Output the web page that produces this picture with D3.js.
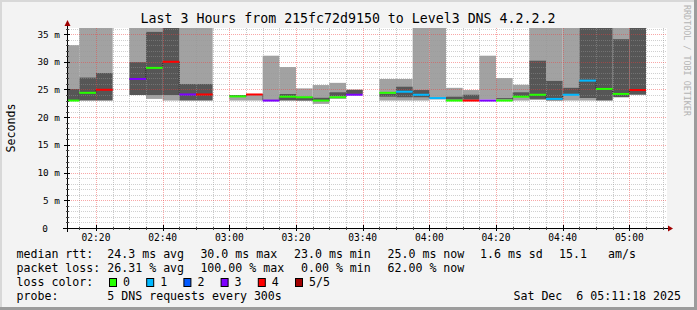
<!DOCTYPE html>
<html><head><meta charset="utf-8">
<script src="https://cdn.jsdelivr.net/npm/d3@7"></script>
<style>
html,body{margin:0;padding:0;background:#f3f3f3;}
svg{display:block;}
text{font-family:"DejaVu Sans Mono",monospace;white-space:pre;}
</style></head><body>
<script>
// ---- data ----
const stepEnds = ["02:15","02:20","02:25","02:30","02:35","02:40","02:45","02:50","02:55","03:00",
  "03:05","03:10","03:15","03:20","03:25","03:30","03:35","03:40","03:45","03:50",
  "03:55","04:00","04:05","04:10","04:15","04:20","04:25","04:30","04:35","04:40",
  "04:45","04:50","04:55","05:00","05:05"];
// values in ms; 40 means above the top of the plot
const lightLo = [25.1,27.2,28.0,null,29.95,23.3,23.0,26.0,26.0,null,
  23.0,23.0,23.0,24.2,23.0,22.4,23.3,24.2,null,23.0,
  23.0,23.0,23.2,23.0,23.0,23.2,23.2,23.0,23.1,26.6,
  23.0,23.0,null,34.1,null];
const lightHi = [33.0,40,40,null,40,40,40,40,40,null,
  24.0,24.1,31.1,29.05,25.2,25.8,26.2,24.95,null,26.9,
  26.9,40,40,25.3,24.9,31.1,27.06,25.85,40,40,
  40,23.45,null,40,null];
const darkLo = [23.0,23.0,23.0,null,24.0,24.0,24.0,23.0,23.0,null,
  23.8,null,null,23.0,23.0,23.1,23.8,24.2,null,23.7,
  23.6,23.6,null,23.2,23.2,null,23.2,23.8,23.3,23.0,
  24.2,23.45,23.0,23.6,24.05];
const darkHi = [25.1,27.2,28.0,null,29.95,35.4,40,26.0,26.0,null,
  24.0,null,null,24.2,23.5,23.5,24.5,24.95,null,24.2,
  25.5,24.9,null,23.7,24.05,null,23.45,24.5,30.2,26.6,
  25.3,40,40,34.1,40];
const median = [23.0,24.4,24.95,null,26.9,28.9,30.0,24.1,24.1,null,
  23.75,24.1,23.0,23.7,23.6,23.0,23.6,24.05,null,24.4,
  24.6,24.05,23.45,23.0,23.0,23.0,23.0,23.7,24.05,23.3,
  24.05,26.6,25.1,24.2,24.9];
const loss = [0,0,4,5,3,0,4,3,4,5,
  0,4,3,0,0,0,0,3,5,0,
  1,1,1,0,4,3,0,0,0,1,
  1,1,0,0,4];
const lossColors = ["#26ff00","#00b8ff","#0059ff","#7e00ff","#ff0000","#a10000"];
const lossLabels = ["0","1","2","3","4","5/5"];
const yTicks = [0,5,10,15,20,25,30,35];
const xTickLabels = ["02:20","02:40","03:00","03:20","03:40","04:00","04:20","04:40","05:00"];
const titleText = "Last 3 Hours from 215fc72d9150 to Level3 DNS 4.2.2.2";
const rttItems = ["median rtt:","24.3 ms avg","30.0 ms max","23.0 ms min","25.0 ms now","1.6 ms sd","15.1","am/s"];
const lossItems = ["packet loss:","26.31 % avg","100.00 % max"," 0.00 % min","62.00 % now"];
const probeText = "5 DNS requests every 300s";
const dateText = "Sat Dec  6 05:11:18 2025";

// ---- setup ----
const W = 697, H = 310;
const L = 67, R = 667, T = 28, B = 228;
const day = "2025-12-06T";
const tp = s => new Date(day + s + ":00");
const t0 = new Date(day + "02:11:18"), t1 = new Date(day + "05:11:18");
const x = d3.scaleTime().domain([t0, t1]).range([L, R]);
const y = d3.scaleLinear().domain([0, 36.1]).range([B, T]);

const svg = d3.select("body").append("svg").attr("width", W).attr("height", H);
svg.append("rect").attr("width", W).attr("height", H).attr("fill", "#f3f3f3");
// frame
svg.append("rect").attr("x",0).attr("y",0).attr("width",W).attr("height",2).attr("fill","#d8d8d8");
svg.append("rect").attr("x",0).attr("y",0).attr("width",2).attr("height",H).attr("fill","#d8d8d8");
svg.append("rect").attr("x",W-3).attr("y",0).attr("width",3).attr("height",H).attr("fill","#9c9c9c");
svg.append("rect").attr("x",0).attr("y",H-3).attr("width",W).attr("height",3).attr("fill","#9c9c9c");

svg.append("rect").attr("x", L).attr("y", T).attr("width", R - L).attr("height", B - T).attr("fill", "#fff");
svg.append("defs").append("clipPath").attr("id","pc").append("rect")
  .attr("x", L).attr("y", T).attr("width", R - L).attr("height", B - T);

const g = svg.append("g").attr("clip-path","url(#pc)");
const rows = stepEnds.map((s, i) => ({
  end: tp(s), start: new Date(tp(s).getTime() - 300000),
  ll: lightLo[i], lh: lightHi[i], dl: darkLo[i], dh: darkHi[i], m: median[i], loss: loss[i]
}));

g.selectAll("rect.light").data(rows.filter(r => r.ll != null)).join("rect")
  .attr("x", r => x(r.start)).attr("width", r => x(r.end) - x(r.start))
  .attr("y", r => y(r.lh)).attr("height", r => y(r.ll) - y(r.lh)).attr("fill", "#a2a2a2");
g.selectAll("rect.dark").data(rows.filter(r => r.dl != null)).join("rect")
  .attr("x", r => x(r.start)).attr("width", r => x(r.end) - x(r.start))
  .attr("y", r => y(r.dh)).attr("height", r => y(r.dl) - y(r.dh)).attr("fill", "#565656");

// grid (on top, translucent)
const minorY = d3.range(1, 37);
const gridG = svg.append("g");
gridG.selectAll("line.hy").data(minorY.filter(v => v % 5 !== 0)).join("line")
  .attr("x1", L).attr("x2", R).attr("y1", v => Math.round(y(v)) + 0.5).attr("y2", v => Math.round(y(v)) + 0.5)
  .attr("stroke", "rgba(150,150,150,0.45)").attr("stroke-dasharray", "1,1");
const minorX = d3.timeMinute.every(5).range(t0, t1);
gridG.selectAll("line.vx").data(minorX.filter(d => d.getMinutes() % 20 !== 0)).join("line")
  .attr("y1", T).attr("y2", B).attr("x1", d => Math.round(x(d)) + 0.5).attr("x2", d => Math.round(x(d)) + 0.5)
  .attr("stroke", "rgba(150,150,150,0.5)").attr("stroke-dasharray", "1,1");
gridG.selectAll("line.my").data(yTicks.filter(v => v > 0)).join("line")
  .attr("x1", L).attr("x2", R).attr("y1", v => Math.round(y(v)) + 0.5).attr("y2", v => Math.round(y(v)) + 0.5)
  .attr("stroke", "rgba(240,60,60,0.45)").attr("stroke-dasharray", "1,1");
const majorX = xTickLabels.map(tp);
gridG.selectAll("line.mx").data(majorX).join("line")
  .attr("y1", T).attr("y2", B).attr("x1", d => Math.round(x(d)) + 0.5).attr("x2", d => Math.round(x(d)) + 0.5)
  .attr("stroke", "rgba(240,60,60,0.45)").attr("stroke-dasharray", "1,1");

// median connectors
const mg = svg.append("g").attr("clip-path","url(#pc)");
for (let i = 1; i < rows.length; i++) {
  const a = rows[i-1], b = rows[i];
  if (a.m != null && b.m != null && a.loss < 5 && b.loss < 5) {
    mg.append("line").attr("x1", x(b.start)).attr("x2", x(b.start))
      .attr("y1", y(a.m)).attr("y2", y(b.m)).attr("stroke", "#222").attr("stroke-dasharray", "1,1");
  }
}
mg.selectAll("line.med").data(rows.filter(r => r.m != null && r.loss < 5)).join("line")
  .attr("x1", r => x(r.start)).attr("x2", r => x(r.end))
  .attr("y1", r => y(r.m)).attr("y2", r => y(r.m))
  .attr("stroke", r => lossColors[r.loss]).attr("stroke-width", 2);

// axes
const ax = svg.append("g");
ax.append("line").attr("x1", L - 4).attr("x2", R + 2).attr("y1", B + 0.5).attr("y2", B + 0.5).attr("stroke", "#000");
ax.append("line").attr("x1", L + 0.5).attr("x2", L + 0.5).attr("y1", B + 4).attr("y2", T - 3).attr("stroke", "#000");
ax.append("path").attr("d", `M${R+1},${B-2.5}L${R+6},${B+0.5}L${R+1},${B+3.5}Z`).attr("fill", "#a00000");
ax.append("path").attr("d", `M${L-2.5},${T-2}L${L+0.5},${T-8}L${L+3.5},${T-2}Z`).attr("fill", "#a00000");
// ticks
ax.selectAll("line.ty").data(minorY.concat([0])).join("line")
  .attr("x1", L - 1).attr("x2", L + 2).attr("y1", v => Math.round(y(v)) + 0.5).attr("y2", v => Math.round(y(v)) + 0.5)
  .attr("stroke", "#444");
ax.selectAll("line.tyM").data(yTicks).join("line")
  .attr("x1", L - 3).attr("x2", L + 3).attr("y1", v => Math.round(y(v)) + 0.5).attr("y2", v => Math.round(y(v)) + 0.5)
  .attr("stroke", "#000");
ax.selectAll("line.tx").data(minorX).join("line")
  .attr("x1", d => Math.round(x(d)) + 0.5).attr("x2", d => Math.round(x(d)) + 0.5).attr("y1", B - 1).attr("y2", B + 2)
  .attr("stroke", "#444");
ax.selectAll("line.txM").data(majorX).join("line")
  .attr("x1", d => Math.round(x(d)) + 0.5).attr("x2", d => Math.round(x(d)) + 0.5).attr("y1", B - 3).attr("y2", B + 3)
  .attr("stroke", "#000");

// labels
ax.selectAll("text.yl").data(yTicks).join("text")
  .attr("x", v => v === 0 ? 48 : 60).attr("y", v => y(v) + 3.5).attr("text-anchor", "end")
  .attr("font-size", "9.4px").attr("fill", "#000").text(v => v === 0 ? "0" : v + " m");
ax.selectAll("text.xl").data(xTickLabels).join("text")
  .attr("x", s => x(tp(s))).attr("y", 241).attr("text-anchor", "middle")
  .attr("font-size", "9.6px").attr("fill", "#000").text(s => s);

svg.append("text").attr("x", W / 2 - 0.5).attr("y", 23).attr("text-anchor", "middle")
  .attr("font-size", "13.25px").attr("fill", "#000").text(titleText);
svg.append("text").attr("transform", "translate(15,128) rotate(-90)").attr("text-anchor", "middle")
  .attr("font-size", "11.6px").attr("fill", "#000").text("Seconds");
svg.append("text").attr("transform", "translate(684,5) rotate(90)").attr("text-anchor", "start")
  .attr("font-size", "8.4px").attr("fill", "#b4b4b4").text("RRDTOOL / TOBI OETIKER");

const lg = svg.append("g").attr("font-size", "11.6px").attr("fill", "#000");
const rttX = [16.5, 107.3, 200.4, 294, 387.5, 480, 559, 608];
rttItems.forEach((s, i) => lg.append("text").attr("x", rttX[i]).attr("y", 258).text(s));
lossItems.forEach((s, i) => lg.append("text").attr("x", rttX[i]).attr("y", 272).text(s));
lg.append("text").attr("x", 16.5).attr("y", 286).text("loss color:");
lossLabels.forEach((s, i) => {
  const sx = 109 + i * 37.2;
  lg.append("rect").attr("x", sx + 0.5).attr("y", 278.5).attr("width", 7).attr("height", 8)
    .attr("fill", lossColors[i]).attr("stroke", "#000").attr("stroke-width", 1);
  lg.append("text").attr("x", sx + 14).attr("y", 286).text(s);
});
lg.append("text").attr("x", 16.5).attr("y", 300).text("probe:");
lg.append("text").attr("x", 107.3).attr("y", 300).text(probeText);
lg.append("text").attr("x", 681).attr("y", 300).attr("text-anchor", "end").text(dateText);
</script>
</body></html>
